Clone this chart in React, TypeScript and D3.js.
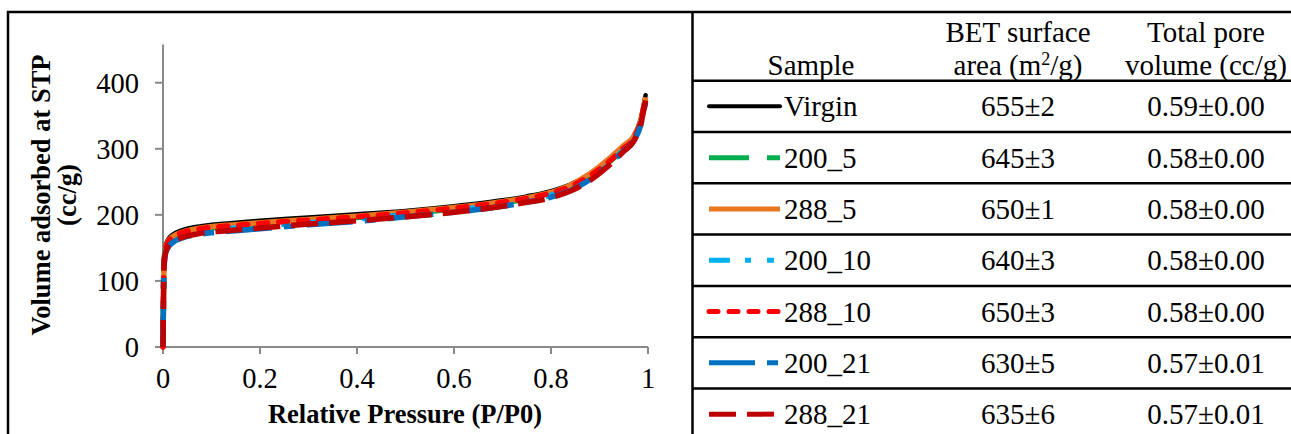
import React from "react";
import * as d3 from "d3";

// Relative pressure (P/P0) sampling points of the N2 adsorption isotherms
const pressure = [0, 0.002, 0.005, 0.01, 0.02, 0.04, 0.07, 0.1, 0.15, 0.2, 0.3, 0.4, 0.5, 0.6, 0.7, 0.75, 0.8, 0.84, 0.88, 0.92, 0.95, 0.97, 0.985, 0.995];

// Volume adsorbed at STP (cc/g) for each sample
const virgin = [0, 130, 152, 162, 170, 177, 182, 185, 188, 191, 196, 201, 206, 213, 222, 228, 236, 246, 262, 283, 302, 318, 345, 381];
const s200_5 = [0, 125, 147, 157, 165, 172, 177, 180, 183, 186, 191, 196, 202, 209, 218, 224, 232, 242, 258, 280, 300, 314, 340, 375];
const s288_5 = [0, 127, 149, 159, 167, 174, 179, 182, 185, 188, 193, 198, 204, 211, 220, 226, 234, 245, 262, 285, 305, 318, 343, 378];
const s200_10 = [0, 122, 145, 154, 162, 169, 174, 177, 180, 183, 188, 194, 200, 207, 216, 222, 230, 240, 256, 278, 298, 312, 338, 373];
const s288_10 = [0, 126, 148, 158, 166, 173, 178, 181, 184, 187, 192, 197, 203, 210, 219, 225, 233, 243, 259, 281, 301, 315, 342, 376];
const s200_21 = [0, 118, 141, 150, 158, 165, 170, 173, 176, 179, 185, 190, 197, 204, 213, 219, 227, 237, 253, 276, 297, 311, 336, 371];
const s288_21 = [0, 119, 142, 151, 159, 166, 171, 174, 177, 180, 186, 191, 197, 204, 213, 219, 226, 236, 252, 275, 296, 311, 337, 373];

// Table contents
const samples = ["Virgin", "200_5", "288_5", "200_10", "288_10", "200_21", "288_21"];
const betArea = ["655±2", "645±3", "650±1", "640±3", "650±3", "630±5", "635±6"];
const poreVolume = ["0.59±0.00", "0.58±0.00", "0.58±0.00", "0.58±0.00", "0.58±0.00", "0.57±0.01", "0.57±0.01"];

// Axis ticks
const xTicks = [0, 0.2, 0.4, 0.6, 0.8, 1];
const yTicks = [0, 100, 200, 300, 400];

const seriesValues: Record<string, number[]> = {
  Virgin: virgin,
  "200_5": s200_5,
  "288_5": s288_5,
  "200_10": s200_10,
  "288_10": s288_10,
  "200_21": s200_21,
  "288_21": s288_21,
};

type LineStyle = { color: string; width: number; dash?: string; cap: "butt" | "round" };
const lineStyles: Record<string, LineStyle> = {
  Virgin: { color: "#000000", width: 4, cap: "round" },
  "200_5": { color: "#00B050", width: 5, dash: "40 18 13 18", cap: "butt" },
  "288_5": { color: "#E87722", width: 5, cap: "butt" },
  "200_10": { color: "#00B0F0", width: 5, dash: "21 15 6 16 7 16", cap: "butt" },
  "288_10": { color: "#FF0000", width: 5, dash: "9 11", cap: "round" },
  "200_21": { color: "#0070C0", width: 5, dash: "46 12 11 12", cap: "butt" },
  "288_21": { color: "#C00000", width: 5, dash: "27 11", cap: "butt" },
};

const serif = "'Liberation Serif', 'Times New Roman', serif";

export default function App() {
  const x = d3.scaleLinear().domain([0, 1]).range([163, 648]);
  const y = d3.scaleLinear().domain([0, 400]).range([347, 82.7]);
  const yTop = 458;
  const axisColor = "#898989";

  const line = d3
    .line<number>()
    .x((_, i) => x(pressure[i]))
    .y((d) => y(d))
    .curve(d3.curveMonotoneX);

  // Table geometry
  const tableLeft = 692.5;
  const headerBottom = 80.7;
  const rowH = 51.3;
  const colBet = 1018;
  const colPore = 1206;

  return (
    <svg
      width={1291}
      height={434}
      style={{ position: "fixed", left: 0, top: 0, background: "#fff" }}
      fontFamily={serif}
    >
      <rect x={0} y={0} width={1291} height={434} fill="#fff" />

      {/* Chart axes */}
      <line x1={x(0)} x2={x(0)} y1={y(yTop)} y2={y(0)} stroke={axisColor} strokeWidth={2} />
      <line x1={x(0)} x2={x(1)} y1={y(0)} y2={y(0)} stroke={axisColor} strokeWidth={2} />
      {yTicks.map((t) => (
        <g key={"y" + t}>
          <line x1={x(0) - 8} x2={x(0)} y1={y(t)} y2={y(t)} stroke={axisColor} strokeWidth={2} />
          <text x={139} y={y(t) + 10} textAnchor="end" fontSize={28.5} fill="#000">
            {t}
          </text>
        </g>
      ))}
      {xTicks.map((t) => (
        <g key={"x" + t}>
          <line x1={x(t)} x2={x(t)} y1={y(0)} y2={y(0) + 7} stroke={axisColor} strokeWidth={2} />
          <text x={x(t)} y={388} textAnchor="middle" fontSize={28.5} fill="#000">
            {t}
          </text>
        </g>
      ))}

      {/* Isotherms */}
      {samples.map((s) => {
        const st = lineStyles[s];
        return (
          <path
            key={s}
            d={line(seriesValues[s]) || ""}
            fill="none"
            stroke={st.color}
            strokeWidth={st.width + 0.5}
            strokeDasharray={st.dash}
            strokeLinecap={st.cap}
            strokeLinejoin="round"
          />
        );
      })}

      {/* Axis titles */}
      <text x={405} y={423} textAnchor="middle" fontSize={26.5} fontWeight="bold">
        Relative Pressure (P/P0)
      </text>
      <g transform="translate(0,195) rotate(-90)">
        <text x={0} y={50} textAnchor="middle" fontSize={26.5} fontWeight="bold">
          Volume adsorbed at STP
        </text>
        <text x={0} y={76} textAnchor="middle" fontSize={26.5} fontWeight="bold">
          (cc/g)
        </text>
      </g>

      {/* Table frame */}
      <line x1={7} x2={1291} y1={12} y2={12} stroke="#000" strokeWidth={2.5} />
      <line x1={8} x2={8} y1={11} y2={434} stroke="#000" strokeWidth={2.5} />
      <line x1={tableLeft} x2={tableLeft} y1={11} y2={434} stroke="#000" strokeWidth={2.5} />
      {d3.range(samples.length).map((i) => (
        <line
          key={"r" + i}
          x1={tableLeft}
          x2={1291}
          y1={headerBottom + i * rowH}
          y2={headerBottom + i * rowH}
          stroke="#000"
          strokeWidth={2.5}
        />
      ))}

      {/* Header */}
      <text x={811} y={75} textAnchor="middle" fontSize={29}>Sample</text>
      <text x={colBet} y={42} textAnchor="middle" fontSize={29}>BET surface</text>
      <text x={colBet} y={75} textAnchor="middle" fontSize={29}>
        area (m<tspan dy={-10} fontSize={18}>2</tspan>
        <tspan dy={10}>/g)</tspan>
      </text>
      <text x={colPore} y={42} textAnchor="middle" fontSize={29}>Total pore</text>
      <text x={colPore} y={75} textAnchor="middle" fontSize={29}>volume (cc/g)</text>

      {/* Rows */}
      {samples.map((s, i) => {
        const cy = headerBottom + i * rowH + rowH / 2;
        const st = lineStyles[s];
        return (
          <g key={"row" + s}>
            <line
              x1={709}
              x2={780}
              y1={cy}
              y2={cy}
              stroke={st.color}
              strokeWidth={st.width}
              strokeDasharray={st.dash}
              strokeLinecap={st.cap}
            />
            <text x={784} y={cy + 10} fontSize={29}>{s}</text>
            <text x={colBet} y={cy + 10} textAnchor="middle" fontSize={29}>{betArea[i]}</text>
            <text x={colPore} y={cy + 10} textAnchor="middle" fontSize={29}>{poreVolume[i]}</text>
          </g>
        );
      })}
    </svg>
  );
}
